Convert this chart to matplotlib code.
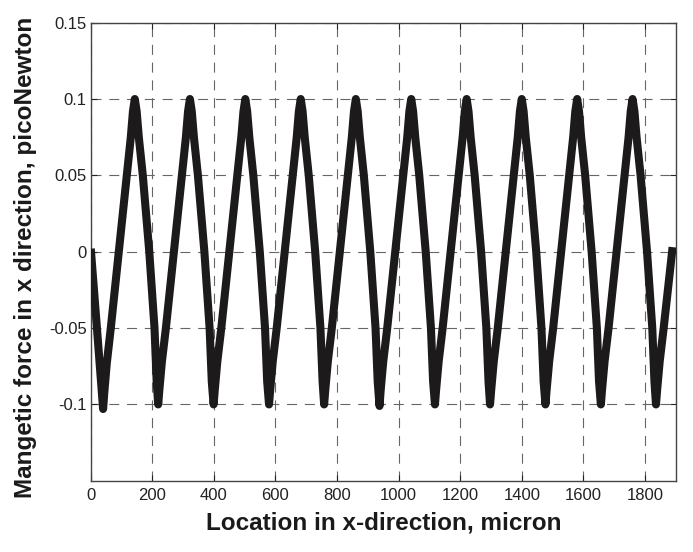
import numpy as np
import matplotlib
matplotlib.use("Agg")
import matplotlib.pyplot as plt

plt.rcParams['font.family'] = ['Liberation Sans', 'DejaVu Sans']

#%% Traced curve: location [micron] vs force [pN]
x_um = [
    0, 20, 33,
    40, 44, 52, 65, 91, 117, 130, 137, 143, 149, 156, 169, 190, 207, 214,
    219, 223, 231, 244, 270, 296, 309, 316, 322, 328, 335, 348, 369, 386, 393,
    399, 403, 411, 424, 450, 476, 489, 496, 502, 508, 515, 528, 549, 566, 573,
    579, 583, 591, 604, 630, 656, 669, 676, 682, 688, 695, 708, 729, 746, 753,
    758, 762, 770, 783, 809, 835, 848, 855, 861, 867, 874, 887, 908, 925, 932,
    938, 942, 950, 963, 989, 1015, 1028, 1035, 1041, 1047, 1054, 1067, 1088, 1105, 1112,
    1118, 1122, 1130, 1143, 1169, 1195, 1208, 1215, 1221, 1227, 1234, 1247, 1268, 1285, 1292,
    1297, 1301, 1309, 1322, 1348, 1374, 1387, 1394, 1400, 1406, 1413, 1426, 1447, 1464, 1471,
    1477, 1481, 1489, 1502, 1528, 1554, 1567, 1574, 1580, 1586, 1593, 1606, 1627, 1644, 1651,
    1657, 1661, 1669, 1682, 1708, 1734, 1747, 1754, 1760, 1766, 1773, 1786, 1807, 1824, 1831,
    1836, 1840, 1848, 1861, 1890,
]
force_pn = [
    0.002, -0.050, -0.085,
    -0.103, -0.092, -0.073, -0.050, 0.000, 0.050, 0.075, 0.092, 0.100, 0.092, 0.075, 0.050, 0.000, -0.050, -0.085,
    -0.100, -0.090, -0.072, -0.050, 0.000, 0.050, 0.075, 0.092, 0.100, 0.092, 0.075, 0.050, 0.000, -0.050, -0.085,
    -0.100, -0.090, -0.072, -0.050, 0.000, 0.050, 0.075, 0.092, 0.100, 0.092, 0.075, 0.050, 0.000, -0.050, -0.085,
    -0.100, -0.090, -0.072, -0.050, 0.000, 0.050, 0.075, 0.092, 0.100, 0.092, 0.075, 0.050, 0.000, -0.050, -0.085,
    -0.100, -0.090, -0.072, -0.050, 0.000, 0.050, 0.075, 0.092, 0.100, 0.092, 0.075, 0.050, 0.000, -0.050, -0.085,
    -0.101, -0.090, -0.072, -0.050, 0.000, 0.050, 0.075, 0.092, 0.100, 0.092, 0.075, 0.050, 0.000, -0.050, -0.085,
    -0.100, -0.090, -0.072, -0.050, 0.000, 0.050, 0.075, 0.092, 0.100, 0.092, 0.075, 0.050, 0.000, -0.050, -0.085,
    -0.100, -0.090, -0.072, -0.050, 0.000, 0.050, 0.075, 0.092, 0.100, 0.092, 0.075, 0.050, 0.000, -0.050, -0.085,
    -0.100, -0.090, -0.072, -0.050, 0.000, 0.050, 0.075, 0.092, 0.100, 0.092, 0.075, 0.050, 0.000, -0.050, -0.085,
    -0.100, -0.090, -0.072, -0.050, 0.000, 0.050, 0.075, 0.092, 0.100, 0.092, 0.075, 0.050, 0.000, -0.050, -0.085,
    -0.100, -0.090, -0.072, -0.050, 0.003,
]

x_ticks = [0, 200, 400, 600, 800, 1000, 1200, 1400, 1600, 1800]
y_ticks = [-0.1, -0.05, 0, 0.05, 0.1, 0.15]
y_tick_labels = ['-0.1', '-0.05', '0', '0.05', '0.1', '0.15']

#%% Plot
fig = plt.figure(figsize=(6.93, 5.52), dpi=100)
ax = fig.add_axes([0.131, 0.129, 0.844, 0.830])

ax.plot(x_um, force_pn, color='#1c1a1a', lw=5.8, solid_joinstyle='round',
        solid_capstyle='butt', zorder=3)

ax.set_xlim(0, 1900)
ax.set_ylim(-0.15, 0.15)
ax.set_xticks(x_ticks)
ax.set_yticks(y_ticks)
ax.set_yticklabels(y_tick_labels)

ax.grid(True, color='#666666', lw=0.8, linestyle=(0, (9, 7)))
ax.tick_params(direction='in', length=4, width=0.8, top=True, right=True,
               labelsize=12, colors='#222222')
ax.tick_params(axis='x', pad=5)
ax.tick_params(axis='y', pad=3)
for s in ax.spines.values():
    s.set_color('#444444')
    s.set_linewidth(1.0)

fig.text(0.554, 0.0525, 'Location in x-direction, micron', ha='center', va='center',
         fontsize=17.5, fontweight='bold', color='#1a1a1a')
fig.text(0.0375, 0.533, 'Mangetic force in x direction, picoNewton', ha='center',
         va='center', rotation=90, fontsize=17.5, fontweight='bold', color='#1a1a1a')

fig.savefig('out.png', dpi=100)
